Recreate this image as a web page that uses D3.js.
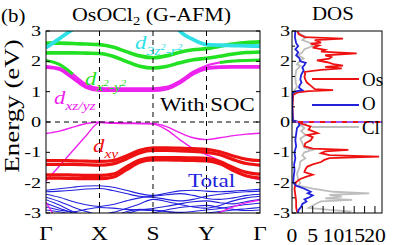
<!DOCTYPE html>
<html>
<head>
<meta charset="utf-8">
<script src="https://cdn.jsdelivr.net/npm/d3@7"></script>
<style>
body { margin: 0; background: #fff; }
svg { display: block; }
text { font-family: "Liberation Serif", "Times New Roman", serif; }
</style>
</head>
<body>
<svg id="chart" width="399" height="245"></svg>
<script>
// k path: Γ - X - S - Y - Γ
var kPath = [0, 0.25, 0.5, 0.75, 1, 1.25, 1.5, 1.75, 2, 2.25, 2.5, 2.75, 3, 3.25, 3.5, 3.75, 4];
var kLabels = ["Γ", "X", "S", "Y", "Γ"];
var eTicks = [3, 2, 1, 0, -1, -2, -3];
var dosTicks = [0, 5, 10, 15, 20];

// bands (eV)
var cyanBands = [
  [2.45, 2.75, 3.06, 3.4, 3.8, 4.0, 4.0, 4.0, 4.0, 3.7, 3.0, 2.72, 2.55, 2.53, 2.52, 2.51, 2.5]
];
var greenBands = [
  [2.6, 2.6, 2.59, 2.57, 2.55, 2.47, 2.32, 2.18, 2.12, 2.18, 2.3, 2.38, 2.42, 2.5, 2.57, 2.62, 2.64],
  [2.28, 2.28, 2.28, 2.27, 2.26, 2.17, 2.0, 1.84, 1.78, 1.83, 1.95, 2.05, 2.1, 2.17, 2.24, 2.29, 2.31]
];
// green near Γ, magenta elsewhere
var mixBand = [2.03, 1.9, 1.58, 1.25, 1.12, 1.11, 1.11, 1.11, 1.11, 1.16, 1.36, 1.66, 1.86, 1.96, 2.01, 2.03, 2.04];
var magentaFat = [
  [1.82, 1.75, 1.46, 1.15, 1.05, 1.05, 1.05, 1.05, 1.05, 1.1, 1.3, 1.6, 1.77, 1.81, 1.82, 1.82, 1.82]
];
var magentaThin = [
  [-0.38, -0.3, -0.17, -0.05, 0.0, -0.02, -0.03, -0.04, -0.05, -0.15, -0.35, -0.52, -0.58, -0.52, -0.45, -0.4, -0.37],
  [-1.95, -1.45, -0.95, -0.45, -0.02, -0.04, -0.05, -0.06, -0.07, -0.25, -0.58, -0.88, -1.08, -1.28, -1.55, -1.78, -1.9],
  [-2.65, -3.3, -3.6, -3.8, -3.9, -3.9, -3.9, -3.8, -3.7, -3.6, -3.5, -3.35, -3.15, -2.98, -2.8, -2.66, -2.57]
];
var redBands = [
  [-1.27, -1.27, -1.28, -1.29, -1.3, -1.27, -1.12, -0.93, -0.85, -0.85, -0.86, -0.88, -0.9, -0.98, -1.12, -1.23, -1.27],
  [-1.4, -1.4, -1.4, -1.41, -1.42, -1.38, -1.22, -1.02, -0.94, -0.94, -0.95, -0.97, -1.0, -1.08, -1.24, -1.37, -1.42],
  [-1.74, -1.74, -1.75, -1.76, -1.76, -1.72, -1.48, -1.25, -1.17, -1.17, -1.17, -1.18, -1.2, -1.3, -1.5, -1.66, -1.72],
  [-1.85, -1.85, -1.86, -1.87, -1.87, -1.82, -1.58, -1.33, -1.25, -1.25, -1.26, -1.27, -1.28, -1.38, -1.6, -1.78, -1.85]
];
var blueBands = [
  [-2.25, -2.2, -2.15, -2.11, -2.1, -2.15, -2.25, -2.36, -2.42, -2.35, -2.27, -2.25, -2.28, -2.3, -2.28, -2.25, -2.22],
  [-2.3, -2.28, -2.25, -2.21, -2.19, -2.26, -2.36, -2.45, -2.48, -2.55, -2.6, -2.55, -2.45, -2.38, -2.33, -2.3, -2.28],
  [-2.38, -2.48, -2.62, -2.73, -2.78, -2.72, -2.6, -2.5, -2.45, -2.4, -2.36, -2.42, -2.52, -2.55, -2.5, -2.42, -2.38],
  [-2.48, -2.62, -2.8, -2.95, -3.05, -2.98, -2.85, -2.7, -2.55, -2.62, -2.72, -2.8, -2.84, -2.75, -2.6, -2.5, -2.45],
  [-2.56, -2.74, -2.95, -3.1, -3.2, -3.15, -3.02, -2.9, -2.85, -2.78, -2.7, -2.63, -2.6, -2.66, -2.7, -2.62, -2.55],
  [-2.68, -2.84, -3.0, -3.15, -3.2, -3.1, -2.96, -2.88, -2.9, -2.95, -2.98, -2.95, -2.9, -2.85, -2.78, -2.72, -2.68],
  [-2.8, -2.9, -2.96, -2.88, -2.82, -2.84, -2.88, -2.9, -2.92, -2.95, -3.0, -3.05, -3.0, -2.95, -2.9, -2.86, -2.82],
  [-2.9, -2.96, -3.05, -3.2, -3.3, -3.3, -3.2, -3.1, -3.0, -2.9, -2.82, -2.78, -2.75, -2.82, -2.88, -2.92, -2.9]
];

// projected DOS: [energy, states/eV]
var dosOs = [[3.0,1.3],[2.9,1.6],[2.8,3.0],[2.75,12.3],[2.7,5.5],[2.62,7.0],[2.58,4.5],[2.52,6.5],[2.45,5.0],[2.38,8.0],[2.32,7.0],[2.26,15.6],[2.2,8.0],[2.14,9.5],[2.09,9.0],[2.03,6.0],[1.97,8.5],[1.91,10.0],[1.86,12.3],[1.82,8.0],[1.77,12.0],[1.72,7.0],[1.65,3.0],[1.58,3.2],[1.5,3.0],[1.4,3.2],[1.3,3.6],[1.2,4.5],[1.14,5.0],[1.08,5.5],[1.05,9.9],[1.02,4.0],[0.98,1.5],[0.9,0.3],[0.5,0.1],[0.05,0.2],[0.0,1.2],[-0.05,2.1],[-0.15,4.5],[-0.25,4.0],[-0.37,6.2],[-0.43,3.7],[-0.5,5.0],[-0.6,4.5],[-0.7,3.2],[-0.8,3.0],[-0.88,5.0],[-0.92,13.6],[-0.97,8.0],[-1.03,7.0],[-1.09,9.0],[-1.14,21.0],[-1.19,9.0],[-1.25,7.8],[-1.32,7.0],[-1.4,5.0],[-1.47,3.7],[-1.55,3.3],[-1.65,3.0],[-1.74,5.0],[-1.8,3.5],[-1.88,2.0],[-1.98,1.0],[-2.07,0.8],[-2.2,0.6],[-2.4,0.8],[-2.6,1.0],[-2.8,1.0],[-2.95,1.2],[-3.0,1.5]];
var dosO = [[3.0,0.8],[2.8,0.7],[2.6,1.0],[2.5,1.5],[2.4,0.8],[2.3,1.5],[2.2,1.0],[2.1,1.8],[2.0,2.0],[1.95,3.3],[1.88,3.0],[1.8,2.5],[1.7,2.8],[1.55,2.2],[1.4,2.0],[1.3,2.3],[1.2,1.8],[1.13,1.7],[1.05,2.5],[1.0,0.6],[0.95,0.1],[0.5,0.05],[0.05,0.2],[0.0,1.5],[-0.1,1.8],[-0.2,1.2],[-0.4,1.0],[-0.6,0.8],[-0.8,1.0],[-1.0,0.6],[-1.2,0.8],[-1.4,0.5],[-1.6,0.6],[-1.8,0.4],[-2.0,0.3],[-2.1,1.0],[-2.2,3.0],[-2.3,4.5],[-2.35,3.8],[-2.42,5.0],[-2.48,4.2],[-2.55,3.0],[-2.62,3.5],[-2.7,2.5],[-2.8,2.2],[-2.9,1.6],[-3.0,1.4]];
var dosCl = [[3.0,1.0],[2.9,2.0],[2.8,3.5],[2.7,2.5],[2.6,4.5],[2.5,5.0],[2.4,3.0],[2.3,2.5],[2.2,1.5],[2.1,2.8],[2.0,1.8],[1.9,1.2],[1.85,2.0],[1.7,1.0],[1.5,0.8],[1.3,0.9],[1.15,1.2],[1.05,0.6],[1.0,0.2],[0.5,0.05],[0.05,0.3],[0.0,2.0],[-0.05,3.5],[-0.1,2.0],[-0.2,3.0],[-0.3,2.2],[-0.43,3.3],[-0.55,2.0],[-0.7,2.5],[-0.85,3.0],[-0.92,5.0],[-1.0,3.0],[-1.1,2.5],[-1.2,3.2],[-1.3,2.0],[-1.5,1.8],[-1.7,1.2],[-1.9,1.5],[-2.0,2.0],[-2.1,1.5],[-2.2,5.0],[-2.3,10.0],[-2.35,18.6],[-2.4,9.0],[-2.46,12.0],[-2.52,8.0],[-2.57,14.5],[-2.62,7.0],[-2.68,6.0],[-2.75,5.0],[-2.83,4.0],[-2.9,9.0],[-2.95,14.0],[-3.0,13.5]];

var colCyan = "#2ee0e6", colGreen = "#22e022", colMag = "#ee22ee",
    colRed = "#ee1111", colBlue = "#2222dd", colGrey = "#bdbdbd";

var svg = d3.select("#chart");

var x = d3.scaleLinear().domain([0, 4]).range([46, 260]);
var y = d3.scaleLinear().domain([-3, 3]).range([213, 31]);
var dx = d3.scaleLinear().domain([0, 21.7]).range([292, 382]);

// stretched text (the figure's fonts are wide)
function stext(parent, px, py, str, size, sx) {
  return parent.append("text")
    .attr("transform", "translate(" + px + "," + py + ") scale(" + sx + ",1)")
    .style("font-size", size + "px")
    .text(str);
}

svg.append("clipPath").attr("id", "clipBand").append("rect")
    .attr("x", 46).attr("y", 31).attr("width", 214).attr("height", 182);
svg.append("clipPath").attr("id", "clipDos").append("rect")
    .attr("x", 292).attr("y", 31).attr("width", 90).attr("height", 182);

var gb = svg.append("g").attr("clip-path", "url(#clipBand)");

var bandLine = d3.line()
    .x(function(d, i) { return x(kPath[i]); })
    .y(function(d) { return y(d); })
    .curve(d3.curveMonotoneX);

function drawBands(list, color, width) {
  gb.append("g").selectAll("path")
    .data(list)
    .enter().append("path")
      .attr("d", bandLine)
      .attr("fill", "none")
      .attr("stroke", color)
      .attr("stroke-width", width);
}

drawBands(blueBands, colBlue, 1.1);
drawBands(magentaThin, colMag, 1.4);
drawBands(redBands, colRed, 3.2);
drawBands([mixBand], colMag, 2);
drawBands(magentaFat, colMag, 3.8);
// green character of the mixed band near Γ
var mixLine = d3.line()
    .defined(function(d, i) { return kPath[i] <= 0.5 || kPath[i] >= 3.25; })
    .x(function(d, i) { return x(kPath[i]); })
    .y(function(d) { return y(d); })
    .curve(d3.curveMonotoneX);
gb.append("path").datum(mixBand).attr("d", mixLine)
    .attr("fill", "none").attr("stroke", colGreen).attr("stroke-width", 3);
drawBands(greenBands, colGreen, 3.6);
drawBands(cyanBands, colCyan, 3.8);

// dashed guides
svg.append("g").selectAll("line")
    .data([1, 2, 3])
    .enter().append("line")
      .attr("x1", function(d) { return x(d); }).attr("x2", function(d) { return x(d); })
      .attr("y1", 31).attr("y2", 213)
      .attr("stroke", "#000").attr("stroke-width", 1).attr("stroke-dasharray", "5,4");
svg.append("line")
    .attr("x1", 46).attr("x2", 260).attr("y1", y(0)).attr("y2", y(0))
    .attr("stroke", "#000").attr("stroke-width", 1).attr("stroke-dasharray", "5,4");

// band frame + ticks
svg.append("rect").attr("x", 46).attr("y", 31).attr("width", 214).attr("height", 182)
    .attr("fill", "none").attr("stroke", "#000").attr("stroke-width", 1);
svg.append("g").selectAll("line").data(eTicks).enter().append("line")
    .attr("x1", 46).attr("x2", 50).attr("y1", function(d) { return y(d); }).attr("y2", function(d) { return y(d); })
    .attr("stroke", "#000");
svg.append("g").selectAll("line").data(eTicks).enter().append("line")
    .attr("x1", 256).attr("x2", 260).attr("y1", function(d) { return y(d); }).attr("y2", function(d) { return y(d); })
    .attr("stroke", "#000");
svg.append("g").selectAll("line").data([1, 2, 3]).enter().append("line")
    .attr("x1", function(d) { return x(d); }).attr("x2", function(d) { return x(d); })
    .attr("y1", 213).attr("y2", 208).attr("stroke", "#000");

var gt = svg.append("g");
eTicks.forEach(function(t) {
  stext(gt, 41, y(t) + 5, String(t), 15, 1.35).attr("text-anchor", "end");
});
kLabels.forEach(function(l, i) {
  stext(gt, x(i), 240, l, 18, 1.3).attr("text-anchor", "middle");
});

// y-axis title
svg.append("text")
    .attr("transform", "translate(19,106) rotate(-90) scale(1.35,1)")
    .attr("text-anchor", "middle")
    .style("font-size", "20px")
    .text("Energy (eV)");

// titles
stext(svg, 1, 22, "(b)", 19, 1.1);
var tt = stext(svg, 72, 21, "OsOCl", 18, 1.22);
tt.append("tspan").attr("dy", 4).style("font-size", "12px").text("2");
tt.append("tspan").attr("dy", -4).text(" (G-AFM)");
stext(svg, 312, 20, "DOS", 19, 1.1);

// band annotations
function orbital(px, py, color, parts) {
  var t = stext(svg, px, py, "", 19, 1.2).attr("fill", color).style("font-style", "italic");
  t.append("tspan").text("d");
  parts.forEach(function(p) {
    t.append("tspan").attr("dy", p[1]).style("font-size", p[2] + "px").text(p[0]);
  });
}
orbital(135, 49, colCyan, [["3z", 6, 13], ["2", -5, 9], ["-r", 5, 13], ["2", -5, 9]]);
orbital(85, 85, colGreen, [["x", 6, 13], ["2", -5, 9], ["-y", 5, 13], ["2", -5, 9]]);
orbital(54, 104, colMag, [["xz/yz", 6, 13]]);
orbital(93, 152, colRed, [["xy", 6, 13]]);
stext(svg, 160, 111, "With SOC", 19, 1.2).attr("fill", "#000");
stext(svg, 188, 187, "Total", 19, 1.22).attr("fill", colBlue);

// DOS panel
var gd = svg.append("g").attr("clip-path", "url(#clipDos)");
var dosLine = d3.line()
    .x(function(d) { return dx(d[1]); })
    .y(function(d) { return y(d[0]); });

gd.append("path").datum(dosCl).attr("d", dosLine)
    .attr("fill", "none").attr("stroke", colGrey).attr("stroke-width", 1.8);
gd.append("path").datum(dosOs).attr("d", dosLine)
    .attr("fill", "none").attr("stroke", colRed).attr("stroke-width", 1.8);
gd.append("path").datum(dosO).attr("d", dosLine)
    .attr("fill", "none").attr("stroke", colBlue).attr("stroke-width", 1.8);

// Fermi level in the DOS panel
svg.append("line").attr("x1", 292).attr("x2", 382).attr("y1", y(0)).attr("y2", y(0))
    .attr("stroke", colRed).attr("stroke-width", 2);
svg.append("line").attr("x1", 292).attr("x2", 382).attr("y1", y(0)).attr("y2", y(0))
    .attr("stroke", "#9955ee").attr("stroke-width", 2).attr("stroke-dasharray", "6,5");

svg.append("rect").attr("x", 292).attr("y", 31).attr("width", 90).attr("height", 182)
    .attr("fill", "none").attr("stroke", "#000").attr("stroke-width", 1);

var dosMinor = [-2.5, -1.5, -0.5, 0.5, 1.5, 2.5];
svg.append("g").selectAll("line").data(eTicks).enter().append("line")
    .attr("x1", 292).attr("x2", 296).attr("y1", function(d) { return y(d); }).attr("y2", function(d) { return y(d); })
    .attr("stroke", "#000");
svg.append("g").selectAll("line").data(dosMinor).enter().append("line")
    .attr("x1", 292).attr("x2", 295).attr("y1", function(d) { return y(d); }).attr("y2", function(d) { return y(d); })
    .attr("stroke", "#000");
var dosXTicks = [2.5, 5, 7.5, 10, 12.5, 15, 17.5, 20];
svg.append("g").selectAll("line").data(dosXTicks).enter().append("line")
    .attr("x1", function(d) { return dx(d); }).attr("x2", function(d) { return dx(d); })
    .attr("y1", 213).attr("y2", 206).attr("stroke", "#000");

eTicks.forEach(function(t) {
  stext(gt, 290, y(t) + 5, String(t), 15, 1.35).attr("text-anchor", "end");
});
dosTicks.forEach(function(t) {
  stext(gt, dx(t), 242, String(t), 18, 1.2).attr("text-anchor", "middle");
});

// legend
var legend = [["Os", colRed, 79, 86], ["O", colBlue, 105, 110], ["Cl", colGrey, 127, 134]];
legend.forEach(function(l) {
  svg.append("line").attr("x1", 312).attr("x2", 359).attr("y1", l[2]).attr("y2", l[2])
      .attr("stroke", l[1]).attr("stroke-width", 2);
  stext(svg, 362, l[3], l[0], 18, 1.05).attr("fill", "#000");
});
</script>
</body>
</html>
